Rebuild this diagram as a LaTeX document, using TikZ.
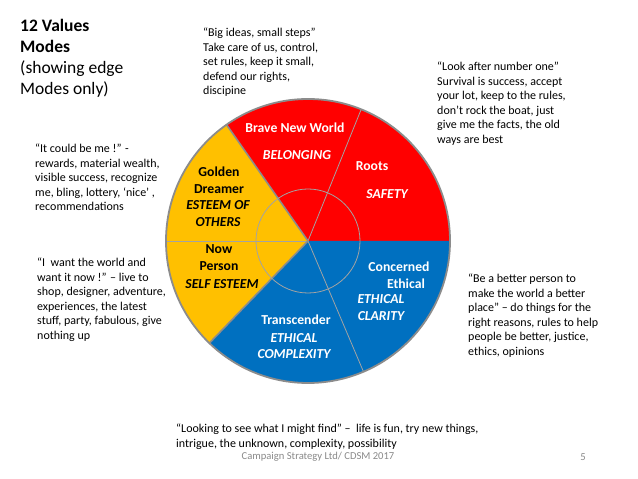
\documentclass[tikz,border=0pt]{standalone}
\usepackage{fontspec}
\setmainfont{Carlito}
\usepackage{tikz}
\usetikzlibrary{calc}
\definecolor{redx}{HTML}{FF0000}
\definecolor{yellowx}{HTML}{FFC000}
\definecolor{bluex}{HTML}{0070C0}
\definecolor{rimx}{HTML}{8C8C8C}
\definecolor{footx}{HTML}{8A8A8A}
\tikzset{
  note/.style={anchor=north west,align=left,inner sep=0pt,font=\fontsize{12}{14.5}\selectfont},
  mode/.style={align=center,inner sep=0pt,font=\fontsize{13.7}{16.7}\selectfont\bfseries},
  val/.style={align=center,inner sep=0pt,font=\fontsize{13.7}{16.7}\selectfont\bfseries\itshape},
  divthick/.style={rimx,line width=1.6pt},
  divthin/.style={rimx!80,line width=0.8pt}
}
\begin{document}
\begin{tikzpicture}[x=1pt,y=1pt]
\useasboundingbox (0,0) rectangle (638,479);
\fill[white] (0,0) rectangle (638,479);
% the wheel
\coordinate (c) at (308,238);
\fill[redx] (c) -- ++(0:142) arc[start angle=0,end angle=125,radius=142] -- cycle;
\fill[yellowx] (c) -- ++(125:142) arc[start angle=125,end angle=226,radius=142] -- cycle;
\fill[bluex] (c) -- ++(226:142) arc[start angle=226,end angle=360,radius=142] -- cycle;
\draw[divthin] (c) -- ++(68:142);
\draw[divthin] (c) -- ++(180:142);
\draw[divthin] (c) -- ++(-67:142);
\draw[divthick] (c) -- ++(125:142);
\draw[divthick] (c) -- ++(226:142);
\draw[divthin] (c) circle[radius=52];
\draw[rimx,line width=1.8pt] (c) circle[radius=142];
% sector labels
\node[mode,white] (bnw) at (295,351) {Brave New World};
\node[val,white] (bel) at (297,324) {BELONGING};
\node[mode,white] (roots) at (372,313) {Roots};
\node[val,white] (saf) at (387,285) {SAFETY};
\node[mode] (gold) at (219,298.5) {Golden\\Dreamer};
\node[val] (eso) at (218,265.5) {ESTEEM OF\\OTHERS};
\node[mode] (now) at (219,221.5) {Now\\Person};
\node[val] (ses) at (222,195) {SELF ESTEEM};
\node[mode,white] (conc) at (399,203.5) {Concerned\\\hspace*{14pt}Ethical};
\node[val,white] (ecl) at (381,171.5) {ETHICAL\\CLARITY};
\node[mode,white] (trans) at (296,159) {Transcender};
\node[val,white] (ecx) at (294,133) {ETHICAL\\COMPLEXITY};
% notes
\node[anchor=north west,align=left,inner sep=0pt,font=\fontsize{17.5}{21}\selectfont] (title) at (20,460)
  {\textbf{12 Values}\\\textbf{Modes}\\(showing edge\\Modes only)};
\node[note] (nbnw) at (203,451) {“Big ideas, small steps”\\Take care of us, control,\\set rules, keep it small,\\defend our rights,\\discipine};
\node[note] (nroots) at (437,417) {“Look after number one”\\Survival is success, accept\\your lot, keep to the rules,\\don’t rock the boat, just\\give me the facts, the old\\ways are best};
\node[note] (ngold) at (35,335) {“It could be me !” -\\rewards, material wealth,\\visible success, recognize\\me, bling, lottery, ‘nice’ ,\\recommendations};
\node[note] (nnow) at (37,221) {“I\ \ want the world and\\want it now !” – live to\\shop, designer, adventure,\\experiences, the latest\\stuff, party, fabulous, give\\nothing up};
\node[note] (nconc) at (468,205) {“Be a better person to\\make the world a better\\place” – do things for the\\right reasons, rules to help\\people be better, justice,\\ethics, opinions};
\node[note] (ntrans) at (176,55) {“Looking to see what I might find” –\ \ life is fun, try new things,\\intrigue, the unknown, complexity, possibility};
\node[inner sep=0pt,footx,font=\fontsize{10.6}{12}\selectfont] (foot) at (318,22) {Campaign Strategy Ltd/ CDSM 2017};
\node[inner sep=0pt,footx,font=\fontsize{10.6}{12}\selectfont] (pg) at (583,22) {5};
\end{tikzpicture}
\end{document}
